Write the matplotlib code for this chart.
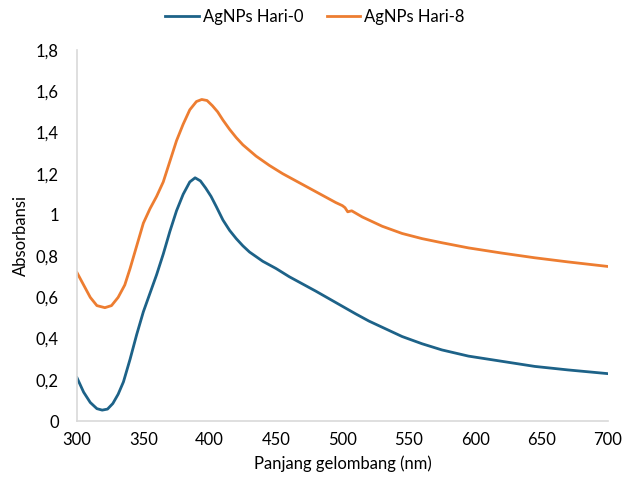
import numpy as np
import matplotlib.pyplot as plt

# wavelength (nm) and absorbance
x_h0 = [300, 305, 310, 315, 319, 323, 327, 331, 335, 340, 345, 350, 355, 360, 365, 370, 375, 380,
        385, 389, 393, 397, 401, 405, 410, 415, 420, 425, 430, 440, 450, 460, 470, 480, 495,
        510, 520, 530, 545, 560, 575, 595, 620, 645, 670, 700]
y_h0 = [0.21, 0.14, 0.09, 0.06, 0.053, 0.058, 0.085, 0.13, 0.19, 0.30, 0.42, 0.53, 0.62, 0.71, 0.81, 0.92,
        1.02, 1.10, 1.16, 1.18, 1.165, 1.13, 1.09, 1.04, 0.975, 0.925, 0.885, 0.85, 0.82, 0.775, 0.74, 0.70,
        0.665, 0.63, 0.575, 0.52, 0.485, 0.455, 0.41, 0.375, 0.345, 0.315, 0.29, 0.265, 0.248, 0.23]

x_h8 = [300, 305, 310, 315, 321, 326, 331, 336, 340, 345, 350, 355, 360, 365, 370, 375, 380, 385,
        390, 394, 398, 402, 406, 410, 415, 420, 425, 435, 445, 455, 465, 475, 485, 495, 500,
        502, 504, 507, 515, 530, 545, 560, 575, 595, 620, 645, 670, 700]
y_h8 = [0.72, 0.66, 0.60, 0.56, 0.55, 0.56, 0.60, 0.66, 0.74, 0.85, 0.96, 1.03, 1.09, 1.16, 1.26, 1.36,
        1.44, 1.51, 1.55, 1.56, 1.555, 1.53, 1.50, 1.46, 1.415, 1.375, 1.34, 1.285, 1.24, 1.20, 1.165, 1.13,
        1.095, 1.06, 1.045, 1.035, 1.015, 1.02, 0.99, 0.945, 0.91, 0.885, 0.865, 0.84, 0.815, 0.792, 0.772, 0.75]

y_ticks = [0, 0.2, 0.4, 0.6, 0.8, 1, 1.2, 1.4, 1.6, 1.8]
y_tick_labels = ['0', '0,2', '0,4', '0,6', '0,8', '1', '1,2', '1,4', '1,6', '1,8']
x_ticks = [300, 350, 400, 450, 500, 550, 600, 650, 700]

plt.rcParams['font.family'] = ['Lato', 'DejaVu Sans']

fig = plt.figure(figsize=(6.24, 4.79), dpi=100)
ax = fig.add_axes([0.1234, 0.121, 0.8506, 0.7746])

ax.plot(x_h0, y_h0, color='#1d6288', lw=2.0, label='AgNPs Hari-0')
ax.plot(x_h8, y_h8, color='#ed7d31', lw=2.0, label='AgNPs Hari-8')

ax.set_xlim(300, 700)
ax.set_ylim(0, 1.8)
ax.set_xticks(x_ticks)
ax.set_yticks(y_ticks)
ax.set_yticklabels(y_tick_labels)
ax.tick_params(length=0, labelsize=12, colors='#000000')
ax.tick_params(axis='x', pad=8)
ax.tick_params(axis='y', pad=13)

for side in ['top', 'right']:
    ax.spines[side].set_visible(False)
for side in ['left', 'bottom']:
    ax.spines[side].set_color('#d9d9d9')
    ax.spines[side].set_linewidth(1.2)

ax.set_xlabel('Panjang gelombang (nm)', fontsize=12, labelpad=5)
ax.set_ylabel('Absorbansi', fontsize=12, labelpad=5)

fig.legend(loc='upper center', bbox_to_anchor=(0.505, 1.012), ncol=2, frameon=False,
           fontsize=12, handlelength=2.0, columnspacing=1.4, handletextpad=0.25)

fig.savefig('out.png', dpi=100)
